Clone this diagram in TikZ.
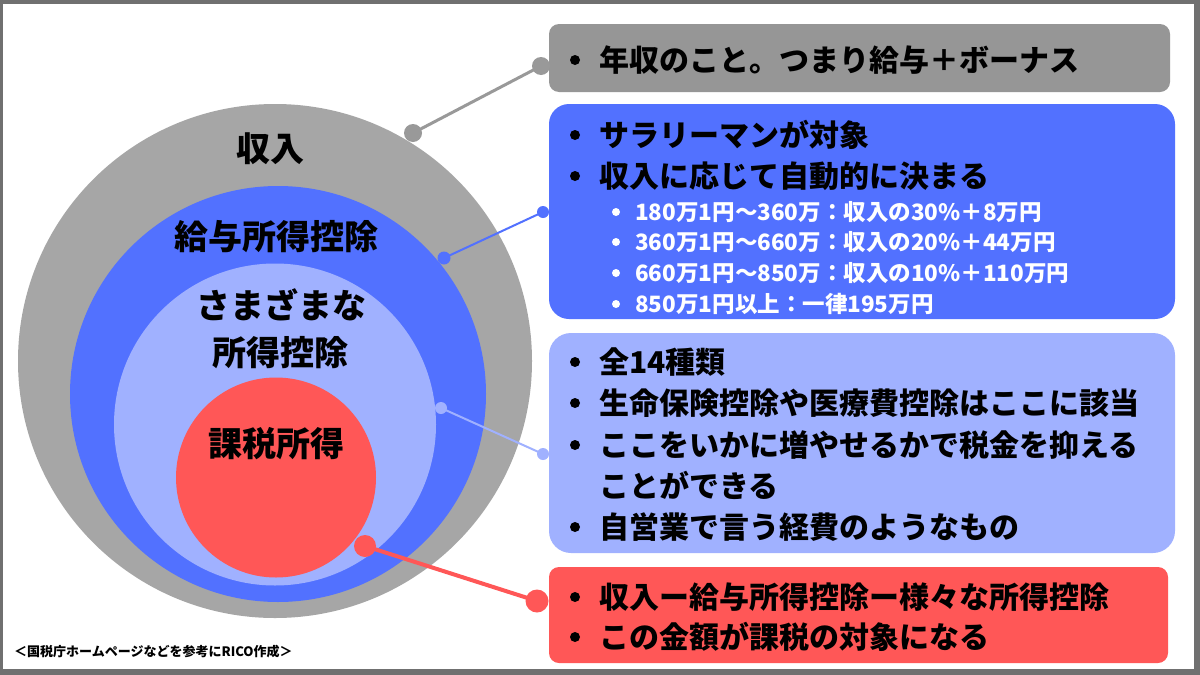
\documentclass[tikz,border=0pt]{standalone}
\usepackage{fontspec}
\setmainfont{Noto Sans CJK JP}
\definecolor{frameC}{HTML}{707070}
\definecolor{outerC}{HTML}{A6A6A6}
\definecolor{boxgC}{HTML}{969696}
\definecolor{lineg}{HTML}{999999}
\definecolor{blueC}{HTML}{5271FF}
\definecolor{lightC}{HTML}{A0B1FF}
\definecolor{redC}{HTML}{FF5757}
\tikzset{
  disc/.style={circle,inner sep=0pt,draw=none},
  lbl/.style={font=\fontsize{34}{40}\selectfont\bfseries,inner sep=0pt},
  panel/.style={rectangle,inner sep=0pt,draw=none},
  itm/.style={anchor=west,inner sep=0pt,font=\fontsize{30}{36}\selectfont\bfseries},
  subitm/.style={anchor=west,inner sep=0pt,text=white,font=\fontsize{22.5}{27}\selectfont\bfseries},
  bul/.style={circle,fill=black,inner sep=0pt,minimum size=10pt},
  subbul/.style={circle,fill=white,inner sep=0pt,minimum size=8pt},
  cdot/.style={circle,inner sep=0pt},
}
\begin{document}
\begin{tikzpicture}[x=1pt,y=-1pt]
\useasboundingbox (0,0) rectangle (1200,675);
\fill[frameC] (0,0) rectangle (1200,675);
\fill[white] (3,4) rectangle (1194,669);

% nested circles
\node[disc,fill=outerC,minimum size=514pt] (inc) at (275,361) {};
\node[disc,fill=blueC,minimum size=416pt] (sal) at (278,394) {};
\node[disc,fill=lightC,minimum size=322pt] (var) at (275,424.5) {};
\node[disc,fill=redC,minimum size=200pt] (tax) at (276,477.5) {};

% circle labels
\node[lbl] (tinc) at (270,149) {収入};
\node[lbl] (tsal) at (276,237) {給与所得控除};
\node[lbl] (tvar1) at (281,305) {さまざまな};
\node[lbl] (tvar2) at (280,353) {所得控除};
\node[lbl] (ttax) at (276,444) {課税所得};

% panels
\node[panel,fill=boxgC,rounded corners=10pt,minimum width=621pt,minimum height=68pt] (pg) at (859.5,58) {};
\node[panel,fill=blueC,rounded corners=20pt,minimum width=626pt,minimum height=215pt] (pb) at (862,211.5) {};
\node[panel,fill=lightC,rounded corners=22pt,minimum width=626pt,minimum height=220pt] (pl) at (862,443) {};
\node[panel,fill=redC,rounded corners=10pt,minimum width=619pt,minimum height=96pt] (pr) at (858.5,615) {};

% connectors
\node[cdot,fill=lineg,minimum size=18pt] (g1) at (413,133) {};
\node[cdot,fill=lineg,minimum size=18pt] (g2) at (541,66) {};
\draw[lineg,line width=3pt] (g1.center) -- (g2.center);
\node[cdot,fill=blueC,minimum size=13pt] (b1) at (444,258) {};
\node[cdot,fill=blueC,minimum size=12pt] (b2) at (543,212) {};
\draw[blueC,line width=2pt] (b1.center) -- (b2.center);
\node[cdot,fill=lightC,minimum size=12pt] (l1) at (441,408) {};
\node[cdot,fill=lightC,minimum size=12pt] (l2) at (543,454) {};
\draw[lightC,line width=2pt] (l1.center) -- (l2.center);
\node[cdot,fill=redC,minimum size=22pt] (r1) at (365,546) {};
\node[cdot,fill=redC,minimum size=23pt] (r2) at (537,601) {};
\draw[redC,line width=4pt] (r1.center) -- (r2.center);

% grey panel text
\node[bul] (gb1) at (575,60) {};
\node[itm] (gt1) at (599,60) {年収のこと。つまり給与＋ボーナス};

% blue panel text
\node[bul] (bb1) at (575,135) {};
\node[itm] (bt1) at (599,135) {サラリーマンが対象};
\node[bul] (bb2) at (575,176) {};
\node[itm] (bt2) at (599,176) {収入に応じて自動的に決まる};
\node[subbul] (sb1) at (616,212) {};
\node[subitm] (st1) at (635,212) {180万1円～360万：収入の30\%＋8万円};
\node[subbul] (sb2) at (616,242) {};
\node[subitm] (st2) at (635,242) {360万1円～660万：収入の20\%＋44万円};
\node[subbul] (sb3) at (616,273) {};
\node[subitm] (st3) at (635,273) {660万1円～850万：収入の10\%＋110万円};
\node[subbul] (sb4) at (616,304) {};
\node[subitm] (st4) at (635,304) {850万1円以上：一律195万円};

% light panel text
\node[bul] (lb1) at (575,362) {};
\node[itm] (lt1) at (599,362) {全14種類};
\node[bul] (lb2) at (575,403) {};
\node[itm] (lt2) at (599,403) {生命保険控除や医療費控除はここに該当};
\node[bul] (lb3) at (575,445) {};
\node[itm] (lt3) at (599,445) {ここをいかに増やせるかで税金を抑える};
\node[itm] (lt4) at (599,485) {ことができる};
\node[bul] (lb5) at (575,527) {};
\node[itm] (lt5) at (599,527) {自営業で言う経費のようなもの};

% red panel text
\node[bul] (rb1) at (575,597) {};
\node[itm] (rt1) at (599,597) {収入ー給与所得控除ー様々な所得控除};
\node[bul] (rb2) at (575,637) {};
\node[itm] (rt2) at (599,637) {この金額が課税の対象になる};

% footnote
\node[anchor=west,inner sep=0pt,font=\fontsize{13}{15}\selectfont\bfseries] (note) at (14,652) {＜国税庁ホームページなどを参考にRICO作成＞};
\end{tikzpicture}
\end{document}
